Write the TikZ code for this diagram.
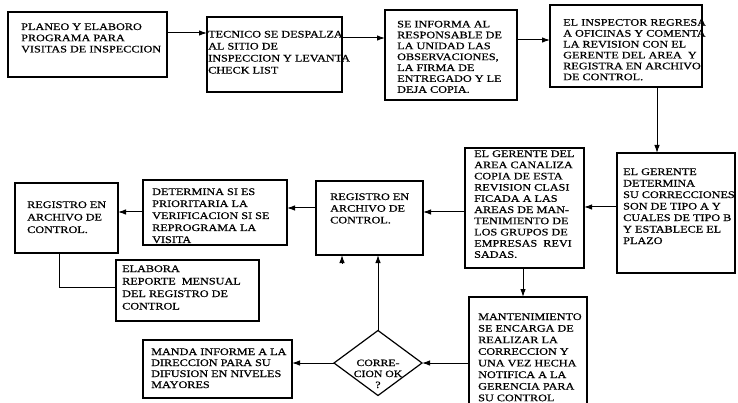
\documentclass[tikz,border=0pt]{standalone}
\usepackage{fontspec}
\setmainfont{Liberation Serif}[FakeStretch=1.22,FakeBold=0.7]
\usetikzlibrary{arrows.meta,shapes.geometric,calc}
\begin{document}
\begin{tikzpicture}[x=1pt,y=-1pt,
  box/.style={draw, line width=1.2pt, inner sep=0pt, outer sep=0pt, anchor=north west},
  txt/.style={anchor=base west, align=left, inner sep=0pt, font=\fontsize{10}{#1}\selectfont},
  txt/.default=11,
  arr/.style={line width=1pt, -{Latex[length=8pt,width=5.5pt]}},
  ln/.style={line width=1pt}]
\clip (0,0) rectangle (738,403);
\fill[white] (0,0) rectangle (738,403);
% boxes
\node[box, minimum width=159, minimum height=65] (b1) at (8,12) {};
\node[box, minimum width=135, minimum height=75] (b2) at (207,17) {};
\node[box, minimum width=132, minimum height=90] (b3) at (385,10) {};
\node[box, minimum width=152, minimum height=82] (b4) at (550,5) {};
\node[box, minimum width=118, minimum height=120] (b5) at (617,153) {};
\node[box, minimum width=119, minimum height=120] (b6) at (465,148) {};
\node[box, minimum width=107, minimum height=74] (b7) at (316,181) {};
\node[box, minimum width=144, minimum height=65] (b8) at (143,180) {};
\node[box, minimum width=103, minimum height=70] (b9) at (15,183) {};
\node[box, minimum width=143, minimum height=61] (b10) at (116,260) {};
\node[box, minimum width=149, minimum height=58] (b11) at (143,340) {};
\node[box, minimum width=118, minimum height=125] (b12) at (469,297) {};
\node[diamond, draw, line width=1.2pt, inner sep=0pt, outer sep=0pt, minimum width=88, minimum height=65] (d) at (378,363) {};
% texts (anchored at the baseline of the last line)
\node[txt=11.2] (t1) at (21,52.4) {PLANEO Y ELABORO\\PROGRAMA PARA\\VISITAS DE INSPECCION};
\node[txt=12] (t2) at (208,73.5) {TECNICO SE DESPALZA\\AL SITIO DE\\INSPECCION Y LEVANTA\\CHECK LIST};
\node[txt=10.9] (t3) at (397,92.8) {SE INFORMA AL\\RESPONSABLE DE\\LA UNIDAD LAS\\OBSERVACIONES,\\LA FIRMA DE\\ENTREGADO Y LE\\DEJA COPIA.};
\node[txt=10.9] (t4) at (563,80.2) {EL INSPECTOR REGRESA\\A OFICINAS Y COMENTA\\LA REVISION CON EL\\GERENTE DEL AREA \ Y\\REGISTRA EN ARCHIVO\\DE CONTROL.};
\node[txt=11.5] (t5) at (623,244) {EL GERENTE\\DETERMINA\\SU CORRECCIONES\\SON DE TIPO A Y\\CUALES DE TIPO B\\Y ESTABLECE EL\\PLAZO};
\node[txt=11.2] (t6) at (474,257.8) {EL GERENTE DEL\\AREA CANALIZA\\COPIA DE ESTA\\REVISION CLASI\\FICADA A LAS\\AREAS DE MAN-\\TENIMIENTO DE\\LOS GRUPOS DE\\EMPRESAS \ REVI\\SADAS.};
\node[txt=11.7] (t7) at (330,223.4) {REGISTRO EN\\ARCHIVO DE\\CONTROL.};
\node[txt=12] (t8) at (152,243) {DETERMINA SI ES\\PRIORITARIA LA\\VERIFICACION SI SE\\REPROGRAMA LA\\VISITA};
\node[txt=12.5] (t9) at (27,233) {REGISTRO EN\\ARCHIVO DE\\CONTROL.};
\node[txt=12.5] (t10) at (122,309.5) {ELABORA\\REPORTE \ MENSUAL\\DEL REGISTRO DE\\CONTROL};
\node[txt=11] (t11) at (151,388) {MANDA INFORME A LA\\DIRECCION PARA SU\\DIFUSION EN NIVELES\\MAYORES};
\node[txt=11.6] (t12) at (478,401.2) {MANTENIMIENTO\\SE ENCARGA DE\\REALIZAR LA\\CORRECCION Y\\UNA VEZ HECHA\\NOTIFICA A LA\\GERENCIA PARA\\SU CONTROL};
\node[anchor=base, align=center, inner sep=0pt, font=\fontsize{9.6}{11}\selectfont] (td) at (378,388) {CORRE-\\CION OK\\?};
% helper coordinates
\coordinate (r1) at (0,33);
\coordinate (r2) at (0,38);
\coordinate (r3) at (0,40);
\coordinate (c1) at (657,0);
\coordinate (r5) at (0,207);
\coordinate (r6) at (0,212);
\coordinate (r7) at (0,208);
\coordinate (r8) at (0,212);
\coordinate (c2) at (59,287);
\coordinate (c3) at (523,0);
\coordinate (c4) at (342,263);
% connectors
\draw[arr] (b1.east|-r1) -- (b2.west|-r1);
\draw[arr] (b2.east|-r2) -- (b3.west|-r2);
\draw[arr] (b3.east|-r3) -- (b4.west|-r3);
\draw[arr] (b4.south-|c1) -- (b5.north-|c1);
\draw[arr] (b5.west|-r5) -- (b6.east|-r5);
\draw[arr] (b6.west|-r6) -- (b7.east|-r6);
\draw[arr] (b7.west|-r7) -- (b8.east|-r7);
\draw[arr] (b8.west|-r8) -- (b9.east|-r8);
\draw[ln] (b9.south-|c2) -- (c2) -- (b10.west|-c2);
\draw[arr] (b6.south-|c3) -- (b12.north-|c3);
\draw[arr] (b12.west|-d.east) -- (d.east);
\draw[arr] (d.west) -- (b11.east|-d.west);
\draw[arr] (d.north) -- (b7.south-|d.north);
\draw[arr] (c4) -- (b7.south-|c4);
\end{tikzpicture}
\end{document}
